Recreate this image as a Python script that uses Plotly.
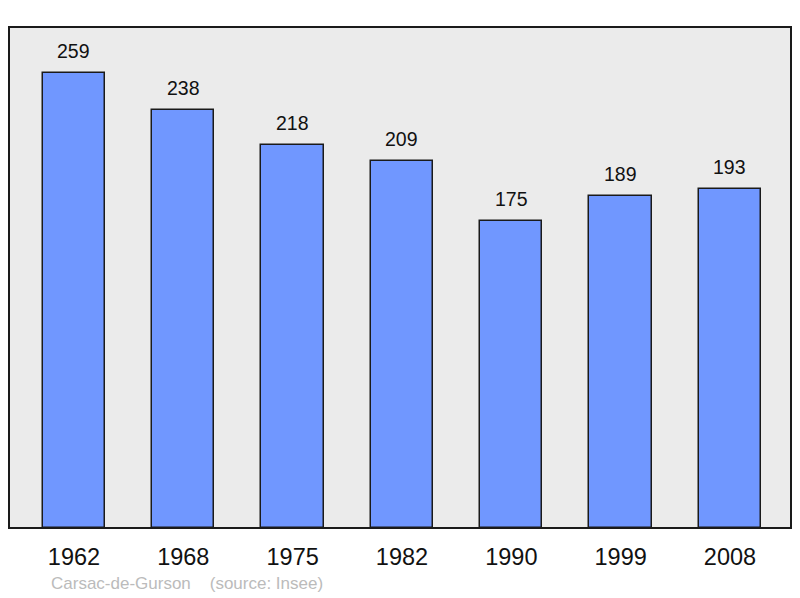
import plotly.graph_objects as go

years = ["1962", "1968", "1975", "1982", "1990", "1999", "2008"]
population = [259, 238, 218, 209, 175, 189, 193]
commune = "Carsac-de-Gurson"
source = "(source: Insee)"

FONT = "Liberation Sans, Arial, sans-serif"

fig = go.Figure()
fig.add_trace(go.Bar(
    x=list(range(len(years))), y=population,
    width=0.57,
    marker=dict(color="#7097ff", line=dict(color="#1a1a1a", width=1.5)),
    hoverinfo="skip",
))

annotations = []
for i, v in enumerate(population):
    annotations.append(dict(x=i, y=v, xref="x", yref="y", text=str(v), showarrow=False,
                            yshift=22, font=dict(size=19.5, color="#111", family=FONT)))
annotations.append(dict(x=(49 - 9) / 782, y=(528 - 583) / 501, xref="paper", yref="paper",
                        text=commune + "&nbsp;&nbsp;&nbsp;&nbsp;" + source,
                        showarrow=False, xanchor="left", yanchor="middle",
                        font=dict(size=17, color="#bbbbbb", family=FONT)))

fig.update_layout(
    width=792, height=590,
    margin=dict(l=1, r=9, t=19, b=70),
    paper_bgcolor="white",
    plot_bgcolor="#ebebeb",
    showlegend=False,
    bargap=0,
    annotations=annotations,
    xaxis=dict(range=[-0.594, 6.558], tickmode="array", tickvals=list(range(len(years))), ticktext=years,
               showgrid=False, zeroline=False, ticks="", ticklen=0, ticklabelstandoff=12,
               tickfont=dict(size=23.5, color="#111", family=FONT)),
    yaxis=dict(range=[0, 285.2], showgrid=False, zeroline=False, showticklabels=False, ticks=""),
    shapes=[dict(type="rect", xref="paper", yref="paper", x0=0, x1=1, y0=0, y1=1,
                 line=dict(color="#1a1a1a", width=2), layer="above")],
)
fig.write_html("out.html")
